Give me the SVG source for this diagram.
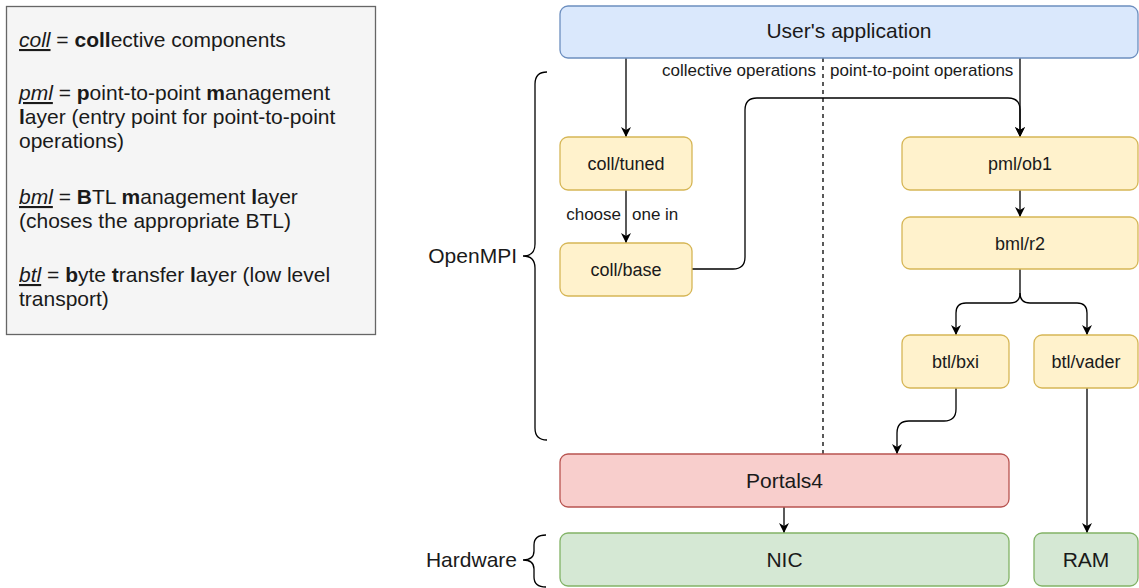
<svg xmlns="http://www.w3.org/2000/svg" width="1139" height="588" viewBox="0 0 1139 588">
<style>
text{font-family:"Liberation Sans",Arial,sans-serif;fill:#1a1a1a}
.lg{font-size:21px}
.nd{font-size:18px;text-anchor:middle}
.big{font-size:21px;text-anchor:middle}
.lbl{font-size:17px}
.u{font-style:italic;text-decoration:underline}
.b{font-weight:bold}
.y{fill:#fff2cc;stroke:#d6b656;stroke-width:1.3}
.e{fill:none;stroke:#000;stroke-width:1.3}
</style>
<defs>
<marker id="ar" viewBox="0 0 10 10" refX="10" refY="5" markerWidth="10" markerHeight="10" markerUnits="userSpaceOnUse" orient="auto">
<path d="M0,0 L10,5 L0,10 L3,5 Z" fill="#000"/>
</marker>
</defs>
<rect width="1139" height="588" fill="#fff"/>
<g id="legend">
<rect x="6.5" y="6.5" width="369" height="328" fill="#f5f5f5" stroke="#666" stroke-width="1.3"/>
<text class="lg" x="19" y="47"><tspan class="u">coll</tspan> = <tspan class="b">coll</tspan>ective components</text>
<text class="lg" x="19" y="100"><tspan class="u">pml</tspan> = <tspan class="b">p</tspan>oint-to-point <tspan class="b">m</tspan>anagement</text>
<text class="lg" x="19" y="124"><tspan class="b">l</tspan>ayer (entry point for point-to-point</text>
<text class="lg" x="19" y="148">operations)</text>
<text class="lg" x="19" y="204"><tspan class="u">bml</tspan> = <tspan class="b">B</tspan>TL <tspan class="b">m</tspan>anagement <tspan class="b">l</tspan>ayer</text>
<text class="lg" x="19" y="228">(choses the appropriate BTL)</text>
<text class="lg" x="19" y="282"><tspan class="u">btl</tspan> = <tspan class="b">b</tspan>yte <tspan class="b">t</tspan>ransfer <tspan class="b">l</tspan>ayer (low level</text>
<text class="lg" x="19" y="306">transport)</text>
</g>
<g id="openmpi-brace">
<path class="e" d="M547,72 Q535,72 535,84 L535,244 Q535,256 523,256 Q535,256 535,268 L535,428 Q535,440 547,440"/>
<text class="lg" x="517" y="263" text-anchor="end">OpenMPI</text>
</g>
<g id="hardware-brace">
<path class="e" d="M546,535 Q534,535 534,545 L534,551 Q534,560 523,560 Q534,560 534,569 L534,577 Q534,587 546,587"/>
<text class="lg" x="517" y="567" text-anchor="end">Hardware</text>
</g>
<g id="connectors">
<line x1="823" y1="58" x2="823" y2="454" stroke="#000" stroke-width="1.3" stroke-dasharray="4 4"/>
<path class="e" d="M626,58 L626,137" marker-end="url(#ar)"/>
<path class="e" d="M1020,58 L1020,137" marker-end="url(#ar)"/>
<path class="e" d="M692,269 L733,269 Q745,269 745,257 L745,110 Q745,98 757,98 L1008,98 Q1020,98 1020,110 L1020,137" marker-end="url(#ar)"/>
<path class="e" d="M626,190 L626,243" marker-end="url(#ar)"/>
<path class="e" d="M1020,190 L1020,217" marker-end="url(#ar)"/>
<path class="e" d="M1020,269 L1020,293 Q1020,303 1010,303 L966,303 Q956,303 956,313 L956,335" marker-end="url(#ar)"/>
<path class="e" d="M1020,293 Q1020,303 1030,303 L1077,303 Q1087,303 1087,313 L1087,335" marker-end="url(#ar)"/>
<path class="e" d="M956,388 L956,409 Q956,421 944,421 L909,421 Q897,421 897,433 L897,454" marker-end="url(#ar)"/>
<path class="e" d="M1087,388 L1087,533" marker-end="url(#ar)"/>
<path class="e" d="M784,507 L784,533" marker-end="url(#ar)"/>
<text class="lbl" x="816" y="76" text-anchor="end">collective operations</text>
<text class="lbl" x="830" y="76">point-to-point operations</text>
<text class="lbl" x="621" y="220" text-anchor="end">choose</text>
<text class="lbl" x="632" y="220">one in</text>
</g>
<g id="app">
<rect x="560" y="6" width="578" height="52" rx="8" fill="#dae8fc" stroke="#6c8ebf" stroke-width="1.3"/>
<text class="big" x="849" y="38">User's application</text>
</g>
<g id="coll-tuned">
<rect class="y" x="560" y="137" width="132" height="53" rx="8"/>
<text class="nd" x="626" y="170">coll/tuned</text>
</g>
<g id="coll-base">
<rect class="y" x="560" y="243" width="132" height="53" rx="8"/>
<text class="nd" x="626" y="276">coll/base</text>
</g>
<g id="pml-ob1">
<rect class="y" x="902" y="137" width="236" height="53" rx="8"/>
<text class="nd" x="1020" y="170">pml/ob1</text>
</g>
<g id="bml-r2">
<rect class="y" x="902" y="217" width="236" height="52" rx="8"/>
<text class="nd" x="1020" y="250">bml/r2</text>
</g>
<g id="btl-bxi">
<rect class="y" x="902" y="335" width="107" height="53" rx="8"/>
<text class="nd" x="955.5" y="368">btl/bxi</text>
</g>
<g id="btl-vader">
<rect class="y" x="1034" y="335" width="104" height="53" rx="8"/>
<text class="nd" x="1086" y="368">btl/vader</text>
</g>
<g id="portals4">
<rect x="560" y="454" width="449" height="53" rx="8" fill="#f8cecc" stroke="#b85450" stroke-width="1.3"/>
<text class="big" x="784.5" y="488">Portals4</text>
</g>
<g id="nic">
<rect x="560" y="533" width="449" height="53" rx="8" fill="#d5e8d4" stroke="#82b366" stroke-width="1.3"/>
<text class="big" x="784.5" y="567">NIC</text>
</g>
<g id="ram">
<rect x="1034" y="533" width="104" height="53" rx="8" fill="#d5e8d4" stroke="#82b366" stroke-width="1.3"/>
<text class="big" x="1086" y="567">RAM</text>
</g>
</svg>
